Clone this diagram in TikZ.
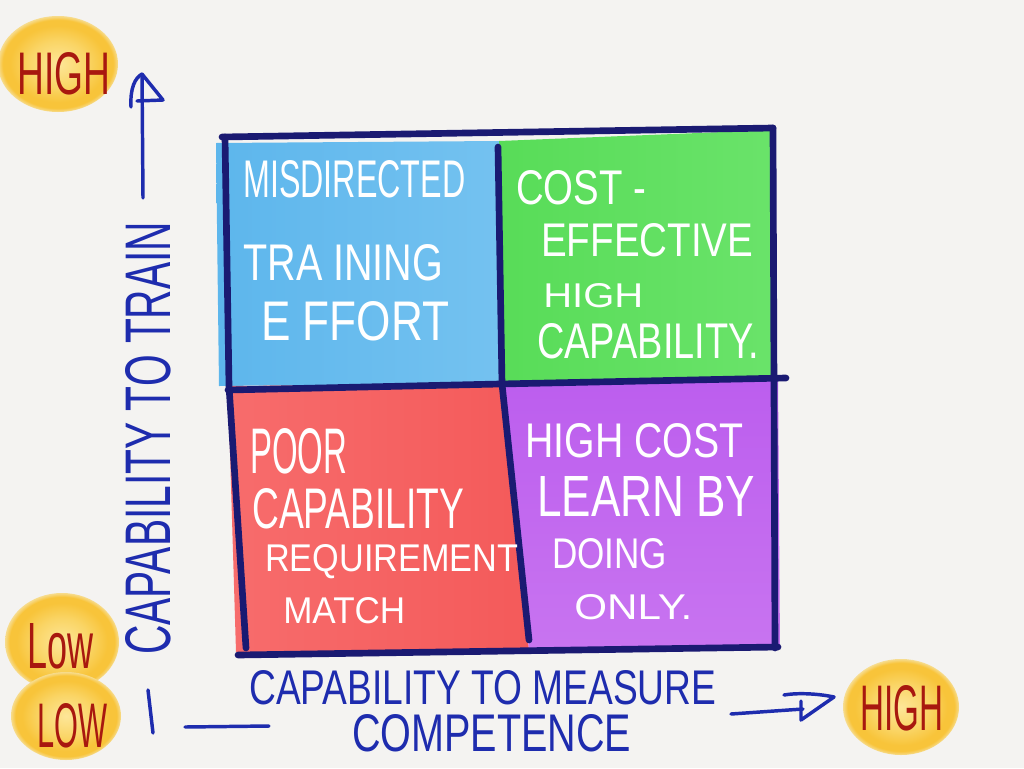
\documentclass[tikz,border=0pt]{standalone}
\usepackage{fontspec}
\setmainfont{Liberation Sans}
\usepackage{graphicx}
\usetikzlibrary{calc}
\newlength\px \setlength\px{0.75pt}
\newcommand\hw[3]{\resizebox{#1\px}{#2\px}{#3}}
\definecolor{bgc}{HTML}{F4F3F1}
\definecolor{qblue}{HTML}{5DB6EC}
\definecolor{qblueL}{HTML}{74C2F0}
\definecolor{qgreen}{HTML}{58DC58}
\definecolor{qgreenL}{HTML}{6AE36A}
\definecolor{qred}{HTML}{F45A5A}
\definecolor{qredL}{HTML}{F76C6C}
\definecolor{qpurple}{HTML}{BC5EEE}
\definecolor{qpurpleL}{HTML}{C874F0}
\definecolor{navy}{HTML}{1A1A72}
\definecolor{axblue}{HTML}{1E2CAE}
\definecolor{blobin}{HTML}{FDE698}
\definecolor{blobmid}{HTML}{FAD566}
\definecolor{blobout}{HTML}{F8C43A}
\definecolor{blobedge}{HTML}{F7DC8E}
\definecolor{dred}{HTML}{A8180F}
\pgfdeclareradialshading{blobshade}{\pgfpoint{0bp}{0bp}}{%
  color(0bp)=(blobin); color(12bp)=(blobmid); color(20bp)=(blobout);
  color(23bp)=(blobout); color(25bp)=(blobedge); color(50bp)=(blobedge)}
\begin{document}
\begin{tikzpicture}[x=0.75pt,y=-0.75pt,
  frame/.style={draw=navy, line width=5pt, line cap=round, line join=round},
  qtext/.style={text=white, inner sep=0pt, anchor=base west},
  axline/.style={draw=axblue, line width=2.6pt, line cap=round, line join=round},
  axtext/.style={text=axblue, inner sep=0pt, anchor=base west},
  blobtext/.style={text=dred, inner sep=0pt, anchor=base west},
  blob/.style={shading=blobshade}]
\useasboundingbox (0,0) rectangle (1024,768);
\fill[bgc] (0,0) rectangle (1024,768);

% quadrant fills
\shade[left color=qblue, right color=qblueL] (216,143) -- (499,141) -- (502,383) -- (219,386) -- cycle;
\shade[left color=qgreen, right color=qgreenL] (499,141) -- (773,130) -- (776,380) -- (502,383) -- cycle;
\shade[left color=qredL, right color=qred] (228,386) -- (502,384) -- (529,650) -- (236,652) -- cycle;
\shade[top color=qpurple, bottom color=qpurpleL] (502,384) -- (778,380) -- (780,648) -- (529,650) -- cycle;

% frame
\draw[frame] (222,137) -- (773,128);
\draw[frame] (773,128) -- (775,648);
\draw[frame] (225,137) -- (229,386) -- (246,648);
\draw[frame] (228,390) -- (500,384) -- (786,378);
\draw[frame] (498,147) -- (502,384) -- (529,640);
\draw[frame] (238,655) -- (778,647);

% quadrant texts
\node[qtext] (b1) at (243,197) {\hw{222}{37}{MISDIRECTED}};
\node[qtext] (b2) at (243,280) {\hw{200}{36}{TRA INING}};
\node[qtext] (b3) at (261,340) {\hw{188}{39}{E FFORT}};

\node[qtext] (g1) at (516,204) {\hw{130}{34}{COST -}};
\node[qtext] (g2) at (541,256) {\hw{212}{33}{EFFECTIVE}};
\node[qtext] (g3) at (543,307) {\hw{100}{24}{HIGH}};
\node[qtext] (g4) at (537,358) {\hw{222}{35}{CAPABILITY.}};

\node[qtext] (r1) at (250,473) {\hw{97}{45}{POOR}};
\node[qtext] (r2) at (252,528) {\hw{212}{40}{CAPABILITY}};
\node[qtext] (r3) at (265,571) {\hw{253}{27}{REQUIREMENT}};
\node[qtext] (r4) at (283,623) {\hw{122}{26}{MATCH}};

\node[qtext] (p1) at (525,457) {\hw{218}{34}{HIGH COST}};
\node[qtext] (p2) at (537,516) {\hw{218}{40}{LEARN BY}};
\node[qtext] (p3) at (552,568) {\hw{115}{30}{DOING}};
\node[qtext] (p4) at (574,619) {\hw{118}{25}{ONLY.}};

% axes
\coordinate (ytail) at (143,198);
\coordinate (ytip) at (142,74);
\draw[axline] (ytail) -- (ytip);
\draw[axline] (131,107) .. controls (130,88) and (135,78) .. (ytip) -- (163,100) -- (137,101);
\node[axtext, rotate=90] (ylab) at (170,655) {\hw{433}{45}{CAPABILITY TO TRAIN}};

\coordinate (tick1) at (148,690);
\coordinate (tick2) at (153,733);
\draw[axline] (tick1) -- (tick2);
\coordinate (xs) at (185,727);
\coordinate (xe) at (269,726);
\draw[axline] (xs) -- (xe);
\coordinate (xt) at (731,714);
\coordinate (xtip) at (803,709);
\draw[axline] (xt) -- (xtip);
\draw[axline] (801,701) -- (801,720) -- (834,697) .. controls (815,693) and (795,693) .. (784,695);
\node[axtext] (xl1) at (249,704) {\hw{467}{34}{CAPABILITY TO MEASURE}};
\node[axtext] (xl2) at (352,751) {\hw{279}{37}{COMPETENCE}};

% blobs
\shade[blob] (58,64) ellipse [x radius=60, y radius=48];
\shade[blob] (62,642) ellipse [x radius=57, y radius=49];
\shade[blob] (66,716) ellipse [x radius=55, y radius=44];
\shade[blob] (901,707) ellipse [x radius=58, y radius=48];
\node[blobtext] (hiy) at (17,94) {\hw{93}{42}{HIGH}};
\node[blobtext] (lowy) at (27,668) {\hw{66}{45}{Low}};
\node[blobtext] (lowx) at (37,747) {\hw{70}{44}{LOW}};
\node[blobtext] (hix) at (860,730) {\hw{83}{45}{HIGH}};
\end{tikzpicture}
\end{document}
